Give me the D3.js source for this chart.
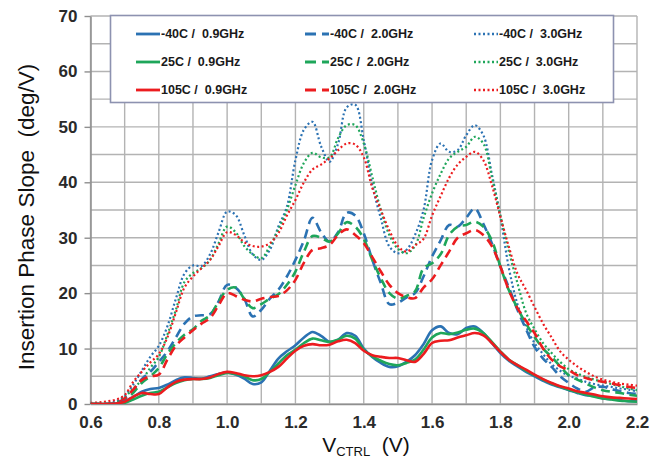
<!DOCTYPE html>
<html>
<head>
<meta charset="utf-8">
<script src="https://cdn.jsdelivr.net/npm/d3@7"></script>
<style>
  html, body { margin: 0; padding: 0; background: #fff; }
  svg { display: block; }
  text { font-family: "Liberation Sans", Arial, sans-serif; }
</style>
</head>
<body>
<svg id="chart" width="665" height="459"></svg>
<script>
// Control voltage samples (V)
const vctrl = [0.600,0.625,0.650,0.675,0.700,0.725,0.750,0.775,0.800,0.825,0.850,0.875,0.900,0.925,0.950,0.975,
  1.000,1.025,1.050,1.075,1.100,1.125,1.150,1.175,1.200,1.225,1.250,1.275,1.300,1.325,1.350,1.375,
  1.400,1.425,1.450,1.475,1.500,1.525,1.550,1.575,1.600,1.625,1.650,1.675,1.700,1.725,1.750,1.775,
  1.800,1.825,1.850,1.875,1.900,1.925,1.950,1.975,2.000,2.025,2.050,2.075,2.100,2.125,2.150,2.175,2.200];

// Insertion phase slope (deg/V), 0.9 GHz
const slopeM40_09 = [0,0,0,0.1,0.5,1.3,2.2,2.7,2.9,3.5,4.3,4.8,4.7,4.6,5.0,5.4,
  5.7,5.3,4.6,3.6,3.9,6.0,8.2,9.5,10.6,12.0,13.0,12.3,11.2,11.6,12.8,12.3,
  10.0,8.5,7.4,6.7,6.8,7.6,8.8,10.8,13.3,14.0,12.8,12.6,13.7,14.0,12.8,11.0,
  9.2,7.8,6.8,5.8,5.0,4.2,3.5,3.0,2.5,2.0,1.6,1.5,1.0,0.9,0.7,0.5,0.5];
const slope25_09 = [0,0,0,0,0.2,0.8,1.5,2.0,2.2,3.0,3.8,4.3,4.5,4.5,4.7,5.2,
  5.6,5.4,5.0,4.3,4.5,5.8,7.3,8.8,9.8,11.0,11.8,11.5,11.2,11.6,12.3,11.8,
  9.8,8.6,7.8,7.2,7.0,7.4,8.0,9.8,12.0,12.8,12.6,12.9,13.4,13.6,12.8,11.2,
  9.5,8.0,7.0,6.0,5.2,4.4,3.7,3.1,2.6,2.1,1.7,1.3,1.0,0.8,0.6,0.5,0.4];
const slope105_09 = [0,0,0,0.1,0.4,1.3,2.0,1.8,1.8,3.0,4.0,4.4,4.5,4.5,4.8,5.4,
  5.8,5.6,5.2,5.0,5.2,5.8,6.7,8.2,9.6,10.5,10.8,10.6,10.7,11.3,11.6,11.0,
  9.6,8.8,8.5,8.3,8.3,7.9,7.6,9.0,11.0,11.4,11.5,12.0,12.4,12.8,12.4,11.0,
  9.4,8.0,7.0,6.2,5.3,4.5,3.8,3.2,2.8,2.3,2.0,1.7,1.4,1.2,1.1,1.0,0.9];

// 2.0 GHz
const slopeM40_20 = [0,0,0,0.2,1.0,2.5,4.5,5.8,7.6,9.5,12.0,14.5,15.8,16.0,16.2,18.5,
  21.5,21.0,19.0,15.8,17.0,19.0,20.6,23.0,26.0,29.5,33.6,31.0,29.3,31.0,34.5,34.0,
  30.8,26.0,21.8,18.0,18.3,19.2,20.0,23.0,26.6,29.5,32.3,32.0,33.6,35.3,32.5,29.0,
  24.8,21.0,17.0,13.5,10.3,8.2,6.7,5.0,3.8,2.8,2.2,3.0,3.1,2.7,2.3,2.0,1.8];
const slope25_20 = [0,0,0,0,0.6,2.0,3.8,5.0,6.5,9.0,11.0,12.5,13.5,15.0,16.0,18.5,
  20.6,21.0,19.0,17.3,18.0,19.0,19.8,21.5,23.9,27.5,30.3,30.0,29.3,30.8,32.8,32.0,
  29.8,26.0,22.7,20.0,19.0,19.5,20.3,24.5,25.4,27.0,30.5,32.0,32.3,32.9,32.0,29.5,
  24.8,20.5,17.3,14.5,12.1,10.0,8.5,6.8,5.2,4.4,3.7,3.0,2.5,2.2,2.0,1.7,1.5];
const slope105_20 = [0,0,0,0.1,1.0,2.6,4.3,5.0,5.3,8.0,10.5,12.0,13.3,14.5,15.5,17.8,
  20.0,19.5,18.8,18.5,19.0,19.3,19.5,20.5,22.4,25.5,27.8,28.1,28.7,30.5,31.5,30.5,
  29.0,26.5,23.9,21.5,20.0,19.3,19.1,21.0,22.5,25.0,27.5,30.0,30.8,31.4,30.5,28.5,
  24.8,20.5,17.3,15.0,12.8,10.0,8.0,6.8,6.1,5.2,4.7,4.3,4.0,3.7,3.4,3.1,2.9];

// 3.0 GHz
const slopeM40_30 = [0,0,0.1,0.5,1.5,3.5,6.0,8.5,10.5,14.0,19.0,23.5,25.0,24.9,27.0,31.0,
  34.7,34.1,30.5,27.0,26.0,27.8,32.0,35.6,44.0,49.5,50.9,46.5,43.7,47.0,53.5,54.0,
  47.6,39.5,33.5,28.4,27.2,27.8,30.5,35.0,44.0,47.0,45.5,45.8,48.5,50.3,48.5,41.5,
  33.8,24.5,18.0,14.0,11.0,9.0,7.2,6.0,5.1,4.6,4.0,3.6,3.3,3.1,2.8,2.6,2.3];
const slope25_30 = [0,0,0,0.3,1.2,2.8,4.3,6.5,8.5,12.5,17.0,22.0,23.6,24.5,26.0,29.0,
  32.0,31.0,28.5,27.0,26.3,28.5,31.5,35.0,39.5,43.5,45.3,44.5,44.5,48.0,50.3,50.3,
  47.0,41.0,35.0,30.5,28.0,27.2,28.5,33.5,38.0,41.5,44.3,45.5,46.4,48.2,47.0,41.0,
  34.0,27.5,21.8,16.5,13.5,11.0,9.2,7.6,6.3,5.5,4.9,4.4,4.0,3.6,3.2,2.8,2.5];
const slope105_30 = [0.2,0.3,0.5,0.8,1.6,4.0,5.8,7.5,9.0,12.0,16.5,21.0,23.0,24.5,26.0,28.5,
  31.0,30.5,29.2,28.5,28.4,29.0,30.8,34.0,36.8,40.0,42.3,43.2,44.3,45.8,47.0,46.8,
  44.5,39.0,35.0,31.3,28.5,27.5,28.6,29.8,34.0,37.5,40.8,43.2,44.6,45.5,44.0,39.5,
  33.8,28.3,23.5,20.6,17.5,14.5,12.0,9.5,8.0,6.8,5.8,5.0,4.4,4.0,3.7,3.5,3.3];

// Legend labels, row by row (temperature) and column by column (frequency)
const legendLabels = [
  ["-40C /  0.9GHz", "-40C /  2.0GHz", "-40C /  3.0GHz"],
  ["25C /  0.9GHz",  "25C /  2.0GHz",  "25C /  3.0GHz"],
  ["105C /  0.9GHz", "105C /  2.0GHz", "105C /  3.0GHz"]
];
const xTicks = [0.6, 0.8, 1.0, 1.2, 1.4, 1.6, 1.8, 2.0, 2.2];
const yTicks = [0, 10, 20, 30, 40, 50, 60, 70];

const tempColors = ["#2b72b3", "#1ea65a", "#ec1c1f"];
const freqDash = [null, "9,5.5", "2,2.5"];
const freqWidth = [2.6, 2.6, 2.2];

const seriesGrid = [
  [slopeM40_09, slopeM40_20, slopeM40_30],
  [slope25_09,  slope25_20,  slope25_30],
  [slope105_09, slope105_20, slope105_30]
];

const svg = d3.select("#chart");
const plotLeft = 90.5, plotRight = 637, plotTop = 16, plotBottom = 404;

const x = d3.scaleLinear().domain([0.6, 2.2]).range([plotLeft, plotRight]);
const y = d3.scaleLinear().domain([0, 70]).range([plotBottom, plotTop]);

// grid lines
const gridX = d3.range(6, 23).map(d => d / 10);
const gridY = d3.range(0, 75, 5);
svg.append("g").selectAll("line").data(gridX).join("line")
  .attr("x1", d => x(d)).attr("x2", d => x(d))
  .attr("y1", plotTop).attr("y2", plotBottom)
  .attr("stroke", "#b3b3b3").attr("stroke-width", 1.4);
svg.append("g").selectAll("line").data(gridY).join("line")
  .attr("x1", plotLeft).attr("x2", plotRight)
  .attr("y1", d => y(d)).attr("y2", d => y(d))
  .attr("stroke", "#b3b3b3").attr("stroke-width", 1.4);

// axes
const yAxis = svg.append("g").attr("transform", `translate(${plotLeft},0)`)
  .call(d3.axisLeft(y).tickValues(yTicks).tickSize(6).tickSizeOuter(0).tickPadding(6).tickFormat(d3.format("d")));
const xAxis = svg.append("g").attr("transform", `translate(0,${plotBottom})`)
  .call(d3.axisBottom(x).tickValues(xTicks).tickSize(0).tickPadding(9).tickFormat(d3.format(".1f")));
[yAxis, xAxis].forEach(a => {
  a.select(".domain").attr("stroke", "#8f8f8f").attr("stroke-width", 1.5);
  a.selectAll(".tick line").attr("stroke", "#8f8f8f").attr("stroke-width", 1.4);
  a.selectAll(".tick text")
    .attr("fill", "#2a2a2a")
    .style("font-family", "'Liberation Sans', Arial, sans-serif")
    .style("font-size", "17px").style("font-weight", "bold");
});
xAxis.selectAll(".tick text").attr("dy", "0.9em");
yAxis.selectAll(".tick text").attr("dx", "-1");

// curves
svg.append("clipPath").attr("id", "plot-clip")
  .append("rect").attr("x", plotLeft).attr("y", plotTop - 2)
  .attr("width", plotRight - plotLeft).attr("height", plotBottom - plotTop + 2);

const line = d3.line()
  .x((d, i) => x(vctrl[i]))
  .y(d => y(d))
  .curve(d3.curveCatmullRom.alpha(0.5));

const curves = svg.append("g").attr("clip-path", "url(#plot-clip)");
// draw order: 3.0 GHz, 2.0 GHz, 0.9 GHz; within each, -40C, 25C, 105C
[2, 1, 0].forEach(f => {
  [0, 1, 2].forEach(t => {
    curves.append("path")
      .attr("d", line(seriesGrid[t][f]))
      .attr("fill", "none")
      .attr("stroke", tempColors[t])
      .attr("stroke-width", freqWidth[f])
      .attr("stroke-dasharray", freqDash[f])
      .attr("stroke-linejoin", "round");
  });
});

// legend
const lg = svg.append("g");
lg.append("rect")
  .attr("x", 110.5).attr("y", 15.5).attr("width", 503).attr("height", 87)
  .attr("fill", "#ffffff").attr("stroke", "#8d92b0").attr("stroke-width", 1.6);
const rowY = [34, 62, 90];
const colX = [136, 305, 474];
legendLabels.forEach((row, t) => {
  row.forEach((label, f) => {
    const cx = colX[f], cy = rowY[t];
    lg.append("line")
      .attr("x1", cx).attr("x2", cx + 24)
      .attr("y1", cy).attr("y2", cy)
      .attr("stroke", tempColors[t])
      .attr("stroke-width", freqWidth[f] + 0.2)
      .attr("stroke-dasharray", f === 1 ? "11,6" : freqDash[f]);
    lg.append("text")
      .attr("x", cx + 25).attr("y", cy)
      .attr("dy", "0.35em")
      .attr("fill", "#1a1a1a")
      .style("font-size", "12.5px").style("font-weight", "bold")
      .style("white-space", "pre")
      .text(label);
  });
});

// axis titles
svg.append("text")
  .attr("transform", "translate(34,217) rotate(-90)")
  .attr("text-anchor", "middle")
  .attr("fill", "#111")
  .style("font-size", "22.5px")
  .style("white-space", "pre")
  .text("Insertion Phase Slope  (deg/V)");

const xt = svg.append("text")
  .attr("x", 366).attr("y", 452)
  .attr("text-anchor", "middle")
  .attr("fill", "#111")
  .style("font-size", "21px")
  .style("white-space", "pre");
xt.append("tspan").text("V");
xt.append("tspan").attr("dy", 4).style("font-size", "13px").text("CTRL");
xt.append("tspan").attr("dy", -4).text("  (V)");
</script>
</body>
</html>
